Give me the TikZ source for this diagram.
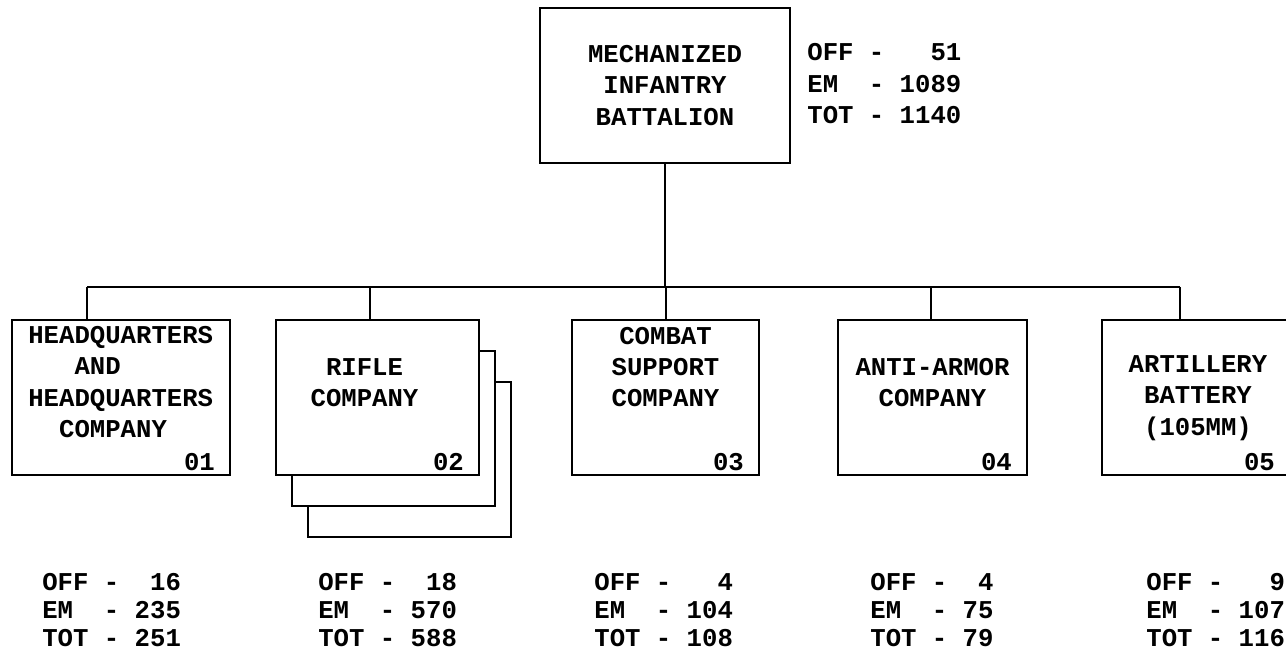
\documentclass[tikz,border=0pt]{standalone}
\usepackage{fontspec}
\setmonofont{Liberation Mono}
\usepackage{tikz}
\usetikzlibrary{positioning,calc}

\newcommand{\manning}[3]{\begin{tabular}{@{}l@{\ -\ }r@{}}OFF&#1\\EM&#2\\TOT&#3\end{tabular}}

\begin{document}
\begin{tikzpicture}[
  font=\ttfamily\bfseries\fontsize{14.6pt}{17.8pt}\selectfont,
  unit/.style={draw=black,line width=1.3pt,fill=white,minimum height=3.1cm,inner sep=0pt},
  uname/.style={align=center,inner sep=0pt},
  num/.style={anchor=base east,inner sep=0pt,xshift=-0.32cm,yshift=0.12cm},
  tally/.style={anchor=west,inner sep=0pt},
  low/.style={tally,font=\ttfamily\bfseries\fontsize{14.6pt}{15.9pt}\selectfont},
  link/.style={line width=1.3pt},
]
\useasboundingbox (0,0) rectangle (25.72,13.26);

% battalion
\node[unit,uname,minimum width=5cm] (bn) at (13.3,11.55) {MECHANIZED\\INFANTRY\\BATTALION};
\node[tally] (bnstr) at (16.14,11.54) {\manning{51}{1089}{1140}};

% bus
\coordinate (j1) at (1.74,7.52);
\coordinate (j2) at (7.40,7.52);
\coordinate (j3) at (13.32,7.52);
\coordinate (j4) at (18.62,7.52);
\coordinate (j5) at (23.60,7.52);

% companies (rifle stack back to front)
\node[unit,minimum width=4.36cm] (hq) at (2.42,5.31) {};
\node[unit,minimum width=4.06cm] (rifleC) at (8.19,4.07) {};
\node[unit,minimum width=4.06cm] (rifleB) at (7.87,4.69) {};
\node[unit,minimum width=4.06cm] (rifle) at (7.55,5.31) {};
\node[unit,minimum width=3.74cm] (csc) at (13.31,5.31) {};
\node[unit,minimum width=3.78cm] (aac) at (18.65,5.31) {};
\node[unit,minimum width=3.76cm] (arty) at (23.92,5.31) {};

\node[uname,align=left,anchor=west] (hqname) at (0.56,5.62) {HEADQUARTERS\\\phantom{XXX}AND\\HEADQUARTERS\\\phantom{XX}COMPANY};
\node[uname] (riflename) at (7.29,5.61) {RIFLE\\COMPANY};
\node[uname] (cscname) at (13.31,5.92) {COMBAT\\SUPPORT\\COMPANY};
\node[uname] (aacname) at (18.65,5.61) {ANTI-ARMOR\\COMPANY};
\node[uname] (artyname) at (23.96,5.30) {ARTILLERY\\BATTERY\\(105MM)};

\node[num] (hqnum) at (hq.south east) {01};
\node[num] (riflenum) at (rifle.south east) {02};
\node[num] (cscnum) at (csc.south east) {03};
\node[num] (aacnum) at (aac.south east) {04};
\node[num] (artynum) at (arty.south east) {05};

% connectors
\draw[link] (bn.south) -- (bn.south |- j1);
\draw[link] (j1) -- (j5);
\foreach \j/\u in {j1/hq,j2/rifle,j3/csc,j4/aac,j5/arty}
  \draw[link] (\j) -- (\j |- \u.north);

% strengths
\node[low] (hqstr) at (0.84,1.0) {\manning{16}{235}{251}};
\node[low] (riflestr) at (6.36,1.0) {\manning{18}{570}{588}};
\node[low] (cscstr) at (11.88,1.0) {\manning{4}{104}{108}};
\node[low] (aacstr) at (17.40,1.0) {\manning{4}{75}{79}};
\node[low] (artystr) at (22.92,1.0) {\manning{9}{107}{116}};
\end{tikzpicture}
\end{document}
